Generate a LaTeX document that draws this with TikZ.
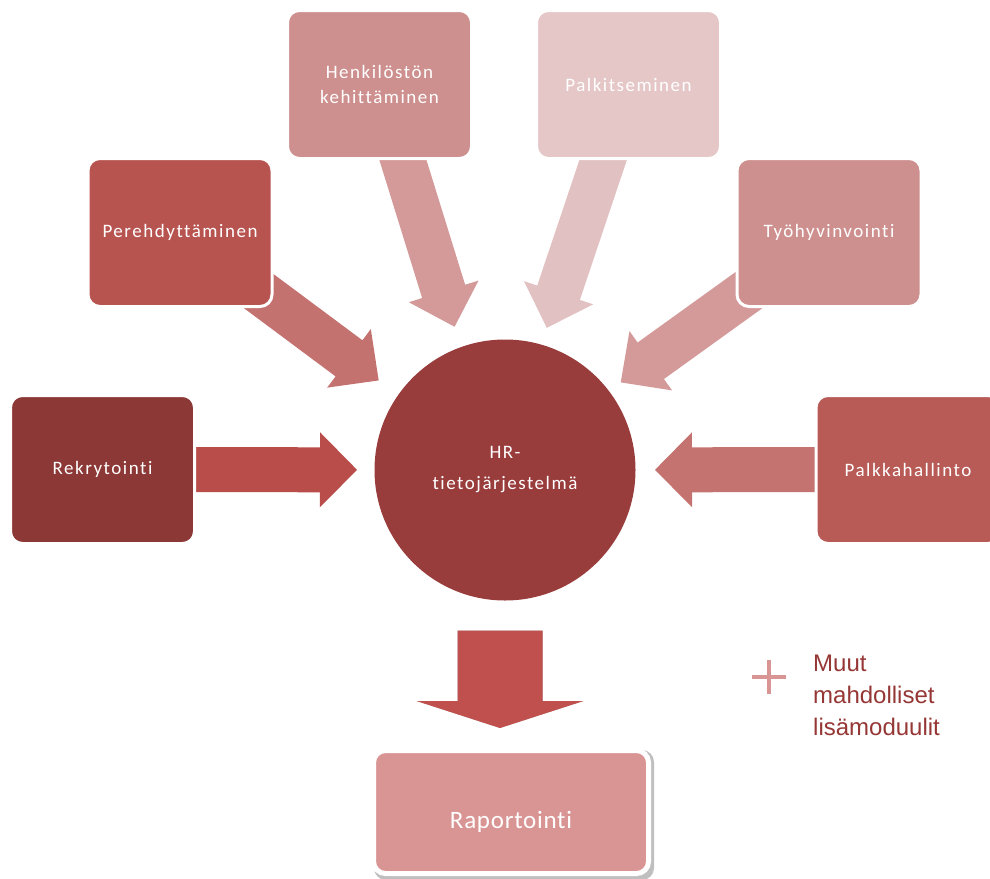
\documentclass[tikz,border=0pt]{standalone}
\usepackage{fontspec}
\newfontfamily\boxfont{Carlito}[LetterSpace=8.0,Ligatures=NoCommon]
\newfontfamily\rapfont{Carlito}[LetterSpace=3.0,Ligatures=NoCommon]
\newfontfamily\muutfont{Liberation Sans}
\usetikzlibrary{calc,backgrounds}
\definecolor{rekcol}{HTML}{8C3836}
\definecolor{perecol}{HTML}{B85450}
\definecolor{henkcol}{HTML}{CE908F}
\definecolor{palkcol}{HTML}{E5C7C7}
\definecolor{tyocol}{HTML}{CE908F}
\definecolor{pkhcol}{HTML}{B85A55}
\definecolor{hrcol}{HTML}{993C3C}
\definecolor{rapcol}{HTML}{D99594}
\definecolor{muutred}{HTML}{953735}
\definecolor{rekarr}{HTML}{B94D4A}
\definecolor{perearr}{HTML}{C47270}
\definecolor{henkarr}{HTML}{D49A99}
\definecolor{palkarr}{HTML}{E2C1C2}
\definecolor{pkharr}{HTML}{C47370}
\definecolor{raparr}{HTML}{C0504D}
% fat arrow: colour, tail, tip, half shaft, half head, head length
\newcommand{\blockarrow}[6]{%
  \coordinate (hb) at ($(#3)!#6!(#2)$);
  \fill[#1]($(#2)!#4!90:(#3)$)--($(hb)!#4!90:(#3)$)--($(hb)!#5!90:(#3)$)--(#3)
    --($(hb)!#5!-90:(#3)$)--($(hb)!#4!-90:(#3)$)--($(#2)!#4!-90:(#3)$)--cycle;}

\begin{document}
\begin{tikzpicture}[x=1pt,y=-1pt,
    module/.style={rectangle,rounded corners=12pt,draw=white,line width=3pt,
      minimum width=184pt,minimum height=148pt,text=white,align=center,
      font=\boxfont\fontsize{19}{25}\selectfont}]
  \useasboundingbox (0,0) rectangle (990,878);
  \node[circle,fill=hrcol,minimum size=261pt,text=white,align=center,
    font=\boxfont\fontsize{19}{31}\selectfont] (hr) at (505,470) {HR-\\tietojärjestelmä};
  \node[module,fill=rekcol] (rek) at (102.5,469.5) {Rekrytointi};
  \node[module,fill=perecol] (pere) at (180,232.5) {Perehdyttäminen};
  \node[module,fill=henkcol] (henk) at (379.5,84.5) {Henkilöstön\\kehittäminen};
  \node[module,fill=palkcol] (palk) at (628.5,84.5) {Palkitseminen};
  \node[module,fill=tyocol] (tyo) at (829,232.5) {Työhyvinvointi};
  \node[module,fill=pkhcol] (pkh) at (908,469.5) {Palkkahallinto};
  \node[module,fill=rapcol,minimum width=275pt,minimum height=123pt,line width=5pt,
    text height=38pt,font=\rapfont\fontsize{25}{30}\selectfont] (rap) at (511,812) {Raportointi};
  \node[anchor=north west,inner sep=0pt,align=left,text=muutred,
    font=\muutfont\fontsize{24}{32}\selectfont] (muut) at (813,655) {Muut\\mahdolliset\\lisämoduulit};
  \draw[rapcol,line width=4pt] ($(muut.north west)+(-61,22)$)--++(34,0)
    ($(muut.north west)+(-44,5)$)--++(0,34);
  \begin{pgfonlayer}{background}
    % arrows aim a bit left of the centre
    \coordinate (hub) at ($(hr.center)+(-6,0)$);
    \blockarrow{rekarr}{rek.center}{$(hr.center)!148pt!(rek.center)$}{22.5pt}{37.5pt}{37pt}
    \blockarrow{perearr}{pere.center}{$(hub)!150pt!(pere.center)$}{22.5pt}{36.5pt}{37pt}
    \blockarrow{henkarr}{henk.center}{$(hub)!150pt!(henk.center)$}{22.5pt}{36.5pt}{37pt}
    \blockarrow{palkarr}{palk.center}{$(hub)!150pt!(palk.center)$}{22.5pt}{36.5pt}{37pt}
    \blockarrow{henkarr}{tyo.center}{$(hub)!150pt!(tyo.center)$}{22.5pt}{36.5pt}{37pt}
    \blockarrow{pkharr}{pkh.center}{$(hr.center)!150pt!(pkh.center)$}{22.5pt}{37.5pt}{37pt}
    \coordinate (dtail) at ($(hr.south)+(-5,30)$);
    \coordinate (dtip) at ($(hr.south |- rap.north)+(-5,-20)$);
    \begin{scope}[shift={(2,3)}]
      \blockarrow{black!30}{dtail}{dtip}{42.5pt}{83.5pt}{27pt}
    \end{scope}
    \blockarrow{raparr}{dtail}{dtip}{42.5pt}{83.5pt}{27pt}
    \fill[black!25,rounded corners=12pt]($(rap.north west)+(3,2)$) rectangle ($(rap.south east)+(3,4)$);
  \end{pgfonlayer}
\end{tikzpicture}
\end{document}
